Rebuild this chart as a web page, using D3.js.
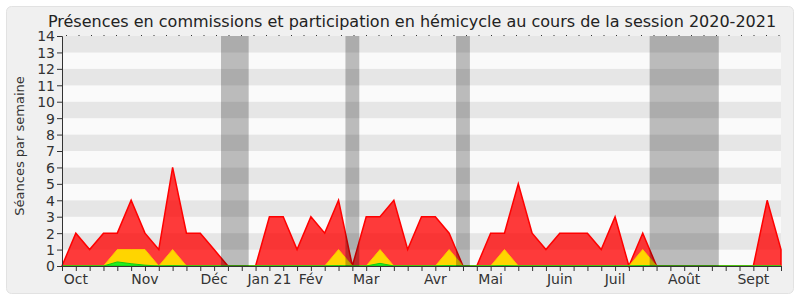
<!DOCTYPE html>
<html>
<head>
<meta charset="utf-8">
<script src="https://cdn.jsdelivr.net/npm/d3@7"></script>
<style>
  body{margin:0;background:#fff;font-family:'DejaVu Sans',sans-serif;}
  .axis text{font-family:'DejaVu Sans',sans-serif;font-size:14px;fill:#333;}
  .axis path,.axis line{stroke:#333;}
</style>
</head>
<body>
<div class="chart"></div>
<script>
// séances par semaine (53 semaines de la session)
const hemicycle = [0,2,1,2,2,4,2,1,6,2,2,1,0,0,0,3,3,1,3,2,4,0,3,3,4,1,3,3,2,0,0,2,2,5,2,1,2,2,2,1,3,0,2,0,0,0,0,0,0,0,0,4,1];
const commission = [0,0,0,0,1,1,1,0,1,0,0,0,0,0,0,0,0,0,0,0,1,0,0,1,0,0,0,0,1,0,0,0,1,0,0,0,0,0,0,0,0,0,1,0,0,0,0,0,0,0,0,0,0];
const presence = [0,0,0,0,0.25,0.14,0.05,0,0.02,0,0,0,0,0,0,0,0,0,0,0,0.02,0,0,0.16,0,0,0,0,0.03,0,0,0,0.02,0,0,0,0,0,0,0,0,0,0.02,0,0,0,0,0,0,0,0,0,0];

// vacances parlementaires (en semaines)
const vacDebut = [11.5,20.5,28.5,42.5];
const vacFin = [13.5,21.5,29.5,47.5];

// libellés des mois
const moisLabels = ['Oct','Nov','Déc','Jan 21','Fév','Mar','Avr','Mai','Juin','Juil','Août','Sept'];
const moisSemaines = [1,6,11,15,18,22,27,31,36,40,45,50];

const yTicks = d3.range(0,15);

const width = 800, height = 300;
const margin = {top:36,right:19,bottom:34,left:62};
const chart_w = width - margin.left - margin.right;
const chart_h = height - margin.top - margin.bottom;

const svg = d3.select('.chart').append('svg')
  .attr('width',width).attr('height',height);

// cadre
svg.append('rect')
  .attr('x',6.5).attr('y',6.5).attr('width',787).attr('height',287)
  .attr('rx',5).attr('fill','#f0f0f0').attr('stroke','#e2e2e2');

const g = svg.append('g').attr('transform',`translate(${margin.left},${margin.top})`);

const x = d3.scaleLinear([0,hemicycle.length-1],[0,chart_w]);
const y = d3.scaleLinear([0,14],[chart_h,0]);

// bandes horizontales
g.append('g').selectAll('rect').data(d3.range(14)).join('rect')
  .attr('x',0).attr('width',chart_w)
  .attr('y',d=>y(d+1)).attr('height',d=>y(d)-y(d+1))
  .attr('fill',d=>d%2 ? '#e6e6e6' : '#fafafa');

// aires
const area = vals => d3.area()
  .x((d,i)=>x(i)).y0(y(0)).y1(d=>y(d))(vals);

g.append('path').attr('d',area(hemicycle))
  .attr('fill','rgba(255,0,0,0.77)').attr('stroke','#ff0000').attr('stroke-width',1.5);
g.append('path').attr('d',area(commission))
  .attr('fill','#ffd500').attr('stroke','#ffc400').attr('stroke-width',1);
g.append('path').attr('d',area(presence))
  .attr('fill','#22ee22').attr('stroke','#11cc11').attr('stroke-width',1);

// vacances
g.append('g').selectAll('rect').data(vacDebut).join('rect')
  .attr('x',d=>x(d)).attr('width',(d,i)=>x(vacFin[i])-x(d))
  .attr('y',0).attr('height',chart_h)
  .attr('fill','rgba(0,0,0,0.25)');

// petits repères en haut
g.append('line')
  .attr('x1',4).attr('x2',chart_w).attr('y1',-0.5).attr('y2',-0.5)
  .attr('stroke','#333').attr('stroke-dasharray','1 11.5');

// axe x
const xAxis = d3.axisBottom(x).tickValues(d3.range(hemicycle.length)).tickSize(5).tickFormat('');
g.append('g').attr('class','x axis')
  .attr('transform',`translate(0,${chart_h})`)
  .call(xAxis);

g.append('g').attr('class','axis').selectAll('text').data(moisLabels).join('text')
  .attr('x',(d,i)=>x(moisSemaines[i]))
  .attr('y',chart_h+18)
  .attr('text-anchor','middle')
  .text(d=>d);

// axe y
const yAxis = d3.axisLeft(y).tickValues(yTicks).tickSize(5).tickPadding(2);
g.append('g').attr('class','y axis').call(yAxis)
  .selectAll('text').attr('dy','0.35em');

// titres
svg.append('text')
  .attr('x',412).attr('y',27)
  .attr('text-anchor','middle')
  .style('font-size','16px').style('fill','#222')
  .text('Présences en commissions et participation en hémicycle au cours de la session 2020-2021');

svg.append('text')
  .attr('transform',`translate(24,146) rotate(-90)`)
  .attr('text-anchor','middle')
  .style('font-size','13px').style('fill','#333')
  .text('Séances par semaine');
</script>
</body>
</html>
